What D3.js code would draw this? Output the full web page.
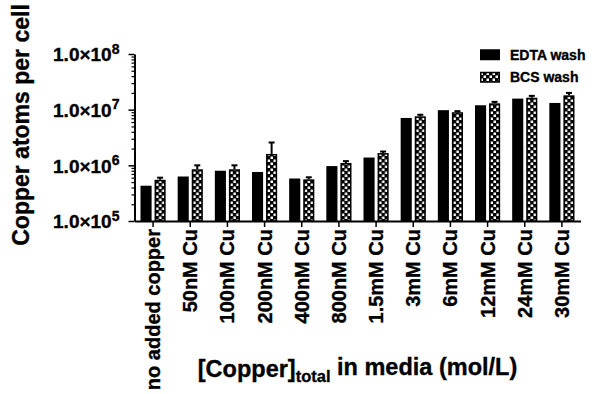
<!DOCTYPE html>
<html>
<head>
<meta charset="utf-8">
<script src="https://cdn.jsdelivr.net/npm/d3@7"></script>
<style>
  body { margin: 0; background: #fff; }
  svg { display: block; font-family: "Liberation Sans", Arial, sans-serif; font-weight: bold; }
  svg text { stroke: #000; stroke-width: 0.35px; }
</style>
</head>
<body>
<div id="chart"></div>
<script>
// Data
var categories = ["no added copper", "50nM Cu", "100nM Cu", "200nM Cu", "400nM Cu", "800nM Cu",
                  "1.5mM Cu", "3mM Cu", "6mM Cu", "12mM Cu", "24mM Cu", "30mM Cu"];
var seriesNames = ["EDTA wash", "BCS wash"];
var edtaValues = [4.3e5, 6.3e5, 8.0e5, 7.6e5, 5.8e5, 9.7e5, 1.38e6, 7.1e6, 9.8e6, 1.2e7, 1.58e7, 1.32e7];
var bcsValues  = [5.5e5, 8.5e5, 8.5e5, 1.6e6, 5.6e5, 1.1e6, 1.66e6, 7.6e6, 9.0e6, 1.3e7, 1.64e7, 1.81e7];
var bcsErrors  = [0.5e5, 1.5e5, 1.5e5, 9.7e5, 0.5e5, 0.9e5, 1.1e5, 5e5, 4e5, 8e5, 1.3e6, 1.9e6];
var yTicks = [1e5, 1e6, 1e7, 1e8];
var yTickExp = ["5", "6", "7", "8"];

var width = 599, height = 394;
var margin = { top: 54, right: 18.5, bottom: 173, left: 134.5 };

var svg = d3.select("#chart").append("svg")
    .attr("width", width)
    .attr("height", height);

// checkered fill for the BCS bars
var defs = svg.append("defs");
var pat = defs.append("pattern")
    .attr("id", "checker")
    .attr("patternUnits", "userSpaceOnUse")
    .attr("width", 6).attr("height", 6);
pat.append("rect").attr("width", 6).attr("height", 6).attr("fill", "#000");
pat.append("rect").attr("x", 0.5).attr("y", 0.5).attr("width", 2.5).attr("height", 2.5).attr("fill", "#fff");
pat.append("rect").attr("x", 3.5).attr("y", 3.5).attr("width", 2.5).attr("height", 2.5).attr("fill", "#fff");

var x0 = d3.scaleBand()
    .domain(categories)
    .range([margin.left, width - margin.right])
    .padding(0);

var x1 = d3.scaleBand()
    .domain(seriesNames)
    .range([6, x0.bandwidth() - 6])
    .paddingInner(0.21);

var y = d3.scaleLog()
    .domain([1e5, 1e8])
    .range([height - margin.bottom, margin.top]);

var rows = categories.map(function (c, i) {
    return { cat: c, edta: edtaValues[i], bcs: bcsValues[i], err: bcsErrors[i] };
});

var groups = svg.selectAll(".group")
    .data(rows)
    .enter().append("g")
    .attr("class", "group")
    .attr("transform", function (d) { return "translate(" + x0(d.cat) + ",0)"; });

groups.append("rect")
    .attr("x", x1("EDTA wash"))
    .attr("y", function (d) { return y(d.edta); })
    .attr("width", x1.bandwidth())
    .attr("height", function (d) { return y(1e5) - y(d.edta); })
    .attr("fill", "#000");

// error bars (only the upper half shows above the bar)
groups.append("line")
    .attr("x1", x1("BCS wash") + x1.bandwidth() / 2)
    .attr("x2", x1("BCS wash") + x1.bandwidth() / 2)
    .attr("y1", function (d) { return y(d.bcs); })
    .attr("y2", function (d) { return y(d.bcs + d.err); })
    .attr("stroke", "#000").attr("stroke-width", 2);
groups.append("line")
    .attr("x1", x1("BCS wash") + x1.bandwidth() / 2 - 3)
    .attr("x2", x1("BCS wash") + x1.bandwidth() / 2 + 3)
    .attr("y1", function (d) { return y(d.bcs + d.err); })
    .attr("y2", function (d) { return y(d.bcs + d.err); })
    .attr("stroke", "#000").attr("stroke-width", 2);

groups.append("rect")
    .attr("x", x1("BCS wash") + 0.75)
    .attr("y", function (d) { return y(d.bcs) + 0.75; })
    .attr("width", x1.bandwidth() - 1.5)
    .attr("height", function (d) { return y(1e5) - y(d.bcs) - 0.75; })
    .attr("fill", "url(#checker)")
    .attr("stroke", "#000").attr("stroke-width", 1.5);

// y axis: major + minor ticks
var minorTicks = [];
[1e5, 1e6, 1e7].forEach(function (p) {
    for (var k = 2; k <= 9; k++) minorTicks.push(p * k);
});

svg.append("g")
    .attr("transform", "translate(" + margin.left + ",0)")
    .call(d3.axisLeft(y).tickValues(minorTicks).tickSize(3).tickFormat(""))
    .call(function (g) {
        g.select(".domain").remove();
        g.selectAll("line").attr("stroke-width", 1.2);
    });

var yAxis = svg.append("g")
    .attr("transform", "translate(" + margin.left + ",0)")
    .call(d3.axisLeft(y).tickValues(yTicks).tickSize(6).tickSizeOuter(0).tickPadding(9).tickFormat(""));
yAxis.select(".domain").attr("stroke-width", 2);
yAxis.selectAll(".tick line").attr("stroke-width", 1.5);
yAxis.selectAll(".tick text")
    .attr("fill", "#000")
    .attr("font-size", 19)
    .attr("dy", "0.36em")
    .each(function (d, i) {
        var t = d3.select(this);
        t.append("tspan").text("1.0\u00d710");
        t.append("tspan").attr("font-size", 14).attr("dy", "-0.55em").text(yTickExp[i]);
    });

// x axis
var xAxis = svg.append("g")
    .attr("transform", "translate(0," + (height - margin.bottom) + ")")
    .call(d3.axisBottom(x0).tickSize(6).tickSizeOuter(0).tickFormat(""));
xAxis.select(".domain").attr("stroke-width", 2);
xAxis.selectAll(".tick line").attr("stroke-width", 1.5);

svg.append("g").selectAll("text")
    .data(categories)
    .enter().append("text")
    .attr("transform", function (d) {
        return "translate(" + (x0(d) + x0.bandwidth() / 2 + 7) + "," + (height - margin.bottom + 8) + ") rotate(-90)";
    })
    .attr("text-anchor", "end")
    .attr("font-size", 20)
    .text(function (d) { return d; });

// axis titles
svg.append("text")
    .attr("transform", "translate(29,125) rotate(-90)")
    .attr("text-anchor", "middle")
    .attr("font-size", 23)
    .text("Copper atoms per cell");

var xt = svg.append("text")
    .attr("x", (margin.left + width - margin.right) / 2)
    .attr("y", 377)
    .attr("text-anchor", "middle")
    .attr("font-size", 23.5);
xt.append("tspan").text("[Copper]");
xt.append("tspan").attr("font-size", 16.5).attr("dy", "0.3em").text("total");
xt.append("tspan").attr("dy", "-0.3em").text(" in media (mol/L)");

// legend
var legend = svg.append("g");
var legendItems = [
    { name: seriesNames[0], fill: "#000", y: 50 },
    { name: seriesNames[1], fill: "url(#checker)", y: 72.5 }
];
legendItems.forEach(function (d) {
    legend.append("rect")
        .attr("x", 480.75).attr("y", d.y)
        .attr("width", 18.5).attr("height", 9.5)
        .attr("fill", d.fill)
        .attr("stroke", "#000").attr("stroke-width", 1.5);
    legend.append("text")
        .attr("x", 510).attr("y", d.y + 9.5)
        .attr("font-size", 14)
        .text(d.name);
});
</script>
</body>
</html>
